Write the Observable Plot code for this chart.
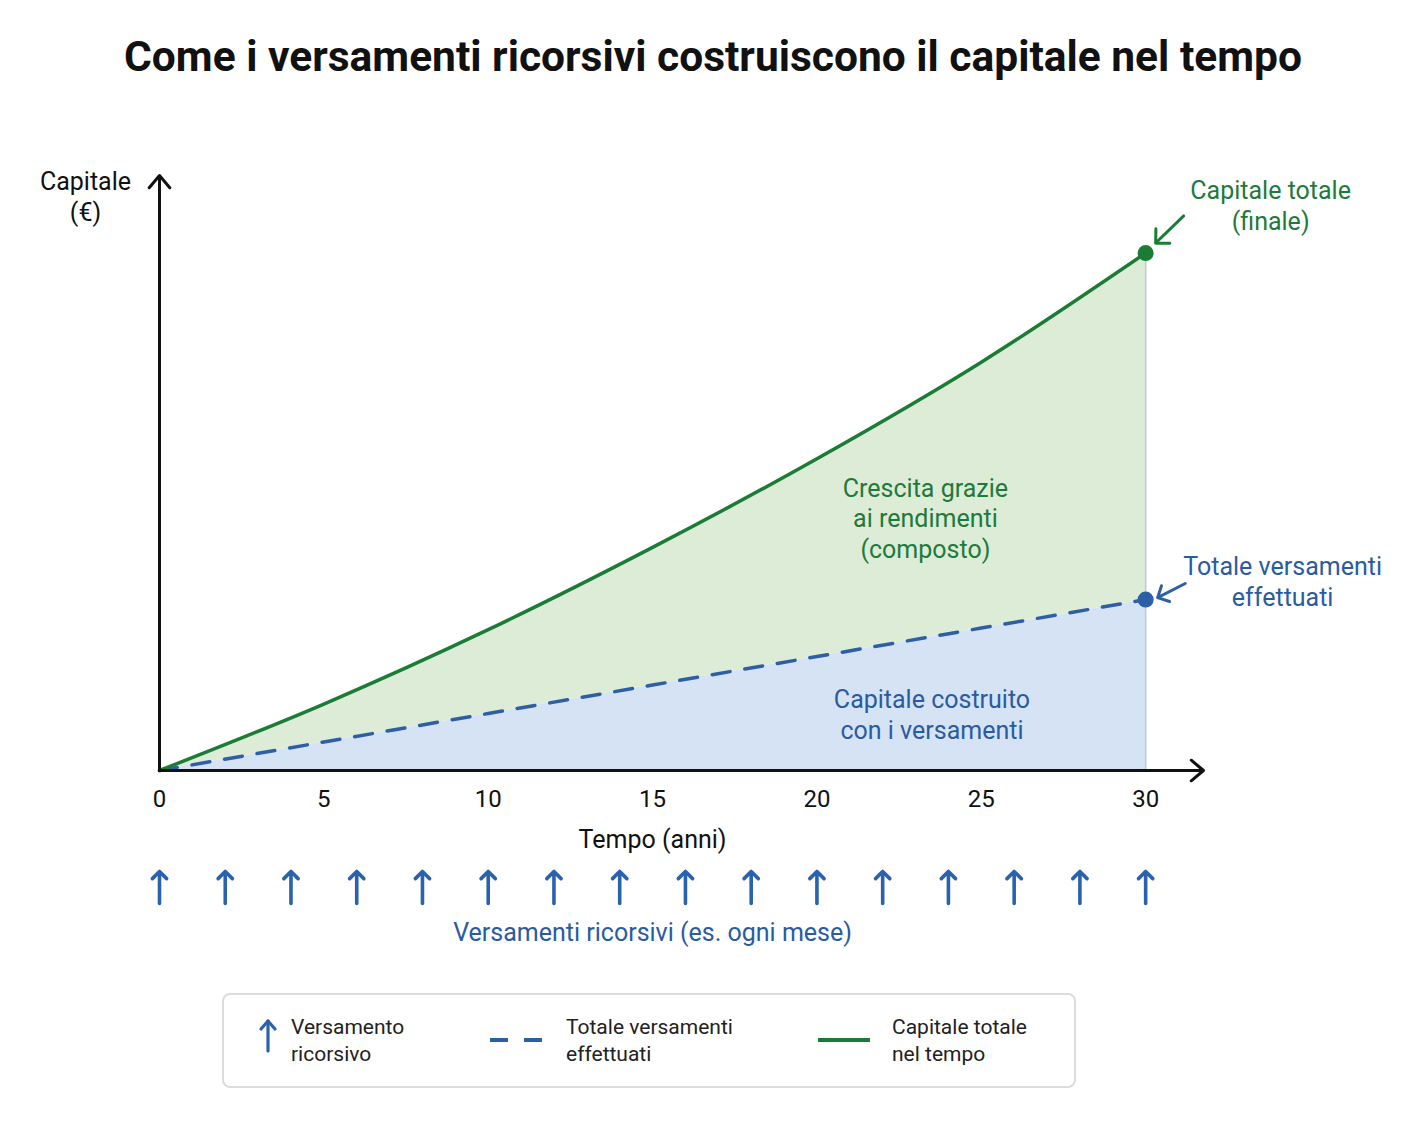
<!DOCTYPE html>
<html>
<head>
<meta charset="utf-8">
<script src="https://cdn.jsdelivr.net/npm/d3@7"></script>
<script src="https://cdn.jsdelivr.net/npm/@observablehq/plot@0.6"></script>
<style>
  html, body { margin: 0; padding: 0; background: #fff; }
  body { width: 1402px; height: 1122px; position: relative; font-family: Roboto, "Noto Sans", sans-serif; overflow: hidden; }
  #title { position: absolute; left: 12px; top: 0; width: 1402px; height: 110px; line-height: 114px; text-align: center;
           font-weight: 700; font-size: 42.5px; letter-spacing: 0; color: #111; }
  #chart { position: absolute; left: 0; top: 110px; }
  #legend { position: absolute; left: 222px; top: 993px; width: 850px; height: 91px; border: 2px solid #dcdcdc; border-radius: 8px; background: #fff; }
  .lg-item { position: absolute; top: 19px; font-size: 21px; line-height: 27px; color: #222; }
  .lg-icon { position: absolute; }
</style>
</head>
<body>
<div id="title">Come i versamenti ricorsivi costruiscono il capitale nel tempo</div>
<div id="chart"></div>
<div id="legend">
  <svg class="lg-icon" style="left:34px;top:22px" width="20" height="36">
    <line x1="10" y1="34" x2="10" y2="4" stroke="#2a62ad" stroke-width="3.2" stroke-linecap="round"/>
    <polyline points="3,12 10,4 17,12" fill="none" stroke="#2a62ad" stroke-width="3.2" stroke-linecap="round" stroke-linejoin="round"/>
  </svg>
  <div class="lg-item" style="left:67px">Versamento<br>ricorsivo</div>
  <svg class="lg-icon" style="left:264px;top:40px" width="56" height="10">
    <line x1="2" y1="5" x2="54" y2="5" stroke="#2d5fa6" stroke-width="4" stroke-dasharray="18,16"/>
  </svg>
  <div class="lg-item" style="left:342px">Totale versamenti<br>effettuati</div>
  <svg class="lg-icon" style="left:593px;top:40px" width="54" height="10">
    <line x1="1" y1="5" x2="53" y2="5" stroke="#1b7d35" stroke-width="4"/>
  </svg>
  <div class="lg-item" style="left:668px">Capitale totale<br>nel tempo</div>
</div>
<script>
// ---- data ----
const years = [0, 5, 10, 15, 20, 25, 30];
const contributions = [0, 18, 36, 54, 72, 90, 108];   // k€ cumulative deposits
const capital = [0, 42, 89, 141, 197, 258, 327];      // k€ total capital
const depositYears = [0, 2, 4, 6, 8, 10, 12, 14, 16, 18, 20, 22, 24, 26, 28, 30];
const xTicks = [0, 5, 10, 15, 20, 25, 30];

const xMax = 31.76, yMax = 376;
const green = "#1b7d35", greenText = "#1e7a3b", greenFill = "#ddecd7";
const blue = "#2d5fa6", blueText = "#2b5b9f", blueFill = "#d5e3f5";

const data = years.map((t, i) => ({t, c: contributions[i], v: capital[i]}));
const last = data[data.length - 1];
const FS = 25;

const chart = Plot.plot({
  width: 1402, height: 850,
  marginLeft: 159, marginRight: 199, marginTop: 65, marginBottom: 190,
  x: {domain: [0, xMax], axis: null},
  y: {domain: [0, yMax], axis: null},
  style: {fontFamily: "Roboto, sans-serif", background: "#fff", overflow: "visible"},
  marks: [
    Plot.areaY(data, {x: "t", y1: 0, y2: "c", fill: blueFill}),
    Plot.areaY(data, {x: "t", y1: "c", y2: "v", fill: greenFill, curve: "monotone-x"}),
    Plot.ruleX([last], {x: "t", y1: 0, y2: "v", stroke: "#b6c9e2", strokeWidth: 1.5}),
    Plot.lineY(data, {x: "t", y: "c", stroke: blue, strokeWidth: 3.5, strokeDasharray: "18,15"}),
    Plot.lineY(data, {x: "t", y: "v", stroke: green, strokeWidth: 3.5, curve: "monotone-x"}),
    // axes with arrows
    Plot.arrow([{x1: 0, y1: 0, x2: xMax, y2: 0}], {x1: "x1", y1: "y1", x2: "x2", y2: "y2", stroke: "#111", strokeWidth: 3, headLength: 8, headAngle: 80}),
    Plot.arrow([{x1: 0, y1: 0, x2: 0, y2: yMax}], {x1: "x1", y1: "y1", x2: "x2", y2: "y2", stroke: "#111", strokeWidth: 3, headLength: 8, headAngle: 80}),
    Plot.text(xTicks, {x: d => d, frameAnchor: "bottom", dy: 36, text: d => String(d), fontSize: 24, fill: "#111"}),
    Plot.text(["Tempo (anni)"], {x: 15, frameAnchor: "bottom", dy: 77, text: d => d, fontSize: FS, fill: "#111"}),
    Plot.text(["Capitale\n(€)"], {frameAnchor: "top-left", textAnchor: "middle", lineAnchor: "middle", dx: -74, dy: 20.5, text: d => d, fontSize: FS, lineHeight: 1.24, fill: "#111"}),
    // deposits row
    Plot.vector(depositYears, {x: d => d, frameAnchor: "bottom", dy: 133, length: 32, rotate: 0, anchor: "start", stroke: "#2a62ad", strokeWidth: 3.6, r: 3.9}),
    Plot.text(["Versamenti ricorsivi (es. ogni mese)"], {x: 15, frameAnchor: "bottom", dy: 170, text: d => d, fontSize: FS, fill: blueText}),
    // end points
    Plot.dot([last], {x: "t", y: "v", r: 8, fill: green}),
    Plot.dot([last], {x: "t", y: "c", r: 8, fill: blue}),
    Plot.vector([last], {x: "t", y: "v", anchor: "end", rotate: 226, length: 39, dx: 10, dy: -10, stroke: green, strokeWidth: 3, r: 4.5}),
    Plot.vector([last], {x: "t", y: "c", anchor: "end", rotate: 243, length: 31, dx: 12, dy: -2, stroke: blue, strokeWidth: 3, r: 5}),
    Plot.text([last], {x: "t", y: "v", dx: 125, dy: -48, text: () => "Capitale totale\n(finale)", fontSize: FS, lineHeight: 1.24, fill: greenText}),
    Plot.text([last], {x: "t", y: "c", dx: 137, dy: -19, text: () => "Totale versamenti\neffettuati", fontSize: FS, lineHeight: 1.24, fill: blueText}),
    // region labels
    Plot.text(["Crescita grazie\nai rendimenti\n(composto)"], {x: 23.3, y: 160, text: d => d, fontSize: FS, lineHeight: 1.22, fill: greenText}),
    Plot.text(["Capitale costruito\ncon i versamenti"], {x: 23.5, y: 36, text: d => d, fontSize: FS, lineHeight: 1.24, fill: blueText})
  ]
});
document.getElementById("chart").appendChild(chart);
</script>
</body>
</html>
